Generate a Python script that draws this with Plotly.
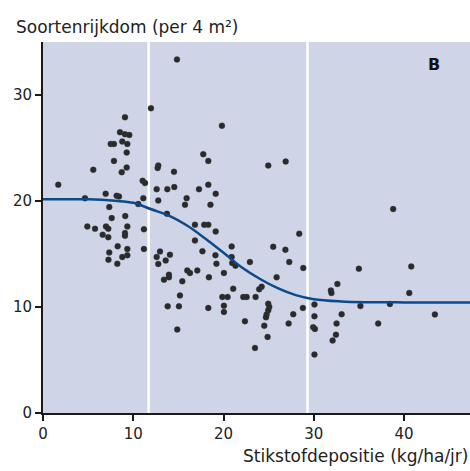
import plotly.graph_objects as go

# Scatter data: nitrogen deposition (kg/ha/jr) vs species richness (per 4 m2)
dep_x = [1.69, 4.65, 5.57, 6.94, 8.16, 8.42, 7.34, 7.61, 9.11, 9.08,
         8.53, 9.08, 9.56, 8.78, 7.50, 7.86, 9.34, 9.27, 7.86, 9.27,
         8.72, 11.04, 11.30, 11.11, 10.55, 4.91, 5.76, 6.98, 7.23, 6.61,
         7.23, 9.34, 9.08, 9.08, 11.18, 8.27, 7.34, 9.34, 9.34, 8.78,
         7.25, 8.23, 11.18,
         11.96, 19.82, 17.75, 18.31, 12.77, 12.70, 14.51, 12.59, 13.77, 14.54,
         18.31, 17.28, 19.13, 12.77, 15.91, 15.73, 18.55, 13.73, 16.83, 17.86,
         18.31, 19.13, 16.83, 17.66, 19.10, 20.90, 20.90, 20.96, 21.32, 19.21,
         22.92, 12.96, 12.59, 12.77, 13.59, 14.06, 15.98, 16.28, 17.09, 20.04,
         13.95, 13.40, 13.95, 15.43, 18.38, 21.07, 15.17, 19.86, 20.45, 22.18,
         22.56, 13.81, 15.06, 18.31, 20.04, 20.04, 22.37, 14.87, 23.48, 24.95,
         26.88, 28.38, 25.50, 26.85, 27.28, 28.83, 25.88, 24.22, 23.95, 23.55,
         24.95, 25.06, 24.95, 24.77, 24.70, 24.51, 24.88, 27.72, 27.21, 28.79,
         30.07, 30.07, 29.93, 30.12, 30.07, 32.61, 31.89, 31.95, 33.08, 32.52,
         32.45, 32.08, 34.99, 35.16, 38.79, 40.79, 40.57, 38.43, 43.41, 37.13,
         14.84]
richness = [21.50, 20.24, 22.91, 20.65, 20.46, 20.39, 19.40, 18.36, 18.55, 27.86,
            26.45, 26.27, 26.20, 25.57, 25.35, 25.35, 25.35, 24.53, 23.75, 23.12,
            22.69, 21.87, 21.66, 20.24, 19.68, 17.57, 17.36, 17.57, 17.36, 16.79,
            16.56, 17.57, 16.95, 16.70, 17.31, 15.71, 15.13, 15.45, 14.86, 14.69,
            14.44, 14.06, 15.45,
            28.71, 27.07, 24.38, 23.75, 23.31, 23.07, 22.72, 21.09, 21.09, 21.28,
            21.50, 21.09, 20.65, 20.02, 20.24, 19.61, 19.61, 18.77, 17.73, 17.73,
            17.73, 17.10, 16.26, 15.24, 14.86, 15.69, 14.69, 14.13, 13.88, 14.06,
            14.22, 15.22, 14.69, 14.04, 14.37, 14.91, 13.43, 13.19, 13.43, 13.19,
            13.03, 12.56, 12.78, 12.40, 12.78, 11.71, 11.08, 10.93, 10.93, 10.93,
            10.93, 10.05, 10.05, 9.90, 10.11, 9.52, 8.64, 7.86, 6.13, 23.31,
            23.69, 16.89, 15.66, 15.38, 14.22, 13.66, 12.78, 11.90, 11.65, 10.93,
            10.30, 9.99, 9.67, 9.27, 9.01, 8.23, 7.17, 9.31, 8.42, 9.90,
            10.21, 9.11, 8.07, 7.92, 5.50, 12.16, 11.55, 11.31, 9.31, 8.42,
            7.38, 6.82, 13.59, 10.08, 19.21, 13.81, 11.31, 10.27, 9.29, 8.42,
            33.30]

# Fitted curve
fit_x = [0, 5, 8, 10, 12, 14, 16, 18, 20, 22, 24, 26, 28, 30, 33, 36, 40, 47.3]
fit_y = [20.13, 20.13, 19.99, 19.80, 19.19, 18.58, 17.64, 16.42, 15.10, 13.73,
         12.65, 11.76, 11.10, 10.72, 10.51, 10.44, 10.42, 10.42]

# Boundaries (white vertical lines)
boundaries = [11.7, 29.3]

x_ticks = [0, 10, 20, 30, 40]
y_ticks = [0, 10, 20, 30]

FONT = "DejaVu Sans"

fig = go.Figure()
fig.add_trace(go.Scatter(
    x=dep_x, y=richness, mode="markers",
    marker=dict(size=6, color="#2a2a2a",
                line=dict(width=1, color="rgba(70,70,80,0.3)")),
    hoverinfo="skip", showlegend=False))
fig.add_trace(go.Scatter(
    x=fit_x, y=fit_y, mode="lines",
    line=dict(color="#0d4a8c", width=2.5, shape="spline", smoothing=1.0),
    hoverinfo="skip", showlegend=False))

for b in boundaries:
    fig.add_shape(type="line", x0=b, x1=b, y0=0, y1=1, xref="x", yref="paper",
                  line=dict(color="white", width=2.5), layer="below")

fig.update_layout(
    width=470, height=471,
    margin=dict(l=43, r=0, t=42, b=58),
    paper_bgcolor="white",
    plot_bgcolor="#cfd5e6",
    font=dict(family=FONT, size=15, color="#222"),
    xaxis=dict(range=[0, 47.3], tickvals=x_ticks, ticktext=[str(v) for v in x_ticks],
               showgrid=False, zeroline=False, showline=True, linecolor="#1a1a1a",
               linewidth=2, ticks="outside", ticklen=6, tickwidth=1.5,
               tickcolor="#1a1a1a", tickfont=dict(size=15)),
    yaxis=dict(range=[0, 34.95], tickvals=y_ticks, ticktext=[str(v) for v in y_ticks],
               showgrid=False, zeroline=False, showline=True, linecolor="#1a1a1a",
               linewidth=2, ticks="outside", ticklen=6, tickwidth=1.5,
               tickcolor="#1a1a1a", tickfont=dict(size=15)),
    annotations=[
        dict(text="Soortenrijkdom (per 4 m²)", xref="paper", yref="paper",
             x=-0.068, y=1.0, xanchor="left", yanchor="bottom", yshift=3,
             showarrow=False, font=dict(size=17, family=FONT, color="#222")),
        dict(text="Stikstofdepositie (kg/ha/jr)", xref="paper", yref="paper",
             x=1.0, y=0, xanchor="right", yanchor="top", yshift=-31,
             showarrow=False, font=dict(size=17, family=FONT, color="#222")),
        dict(text="<b>B</b>", xref="paper", yref="paper",
             x=0.915, y=0.94, xanchor="center", yanchor="middle",
             showarrow=False, font=dict(size=16, family=FONT, color="#111")),
    ],
)

fig.write_html("out.html", config={"displayModeBar": False},
               post_script="document.body.style.margin='0';document.body.style.overflow='hidden';")
